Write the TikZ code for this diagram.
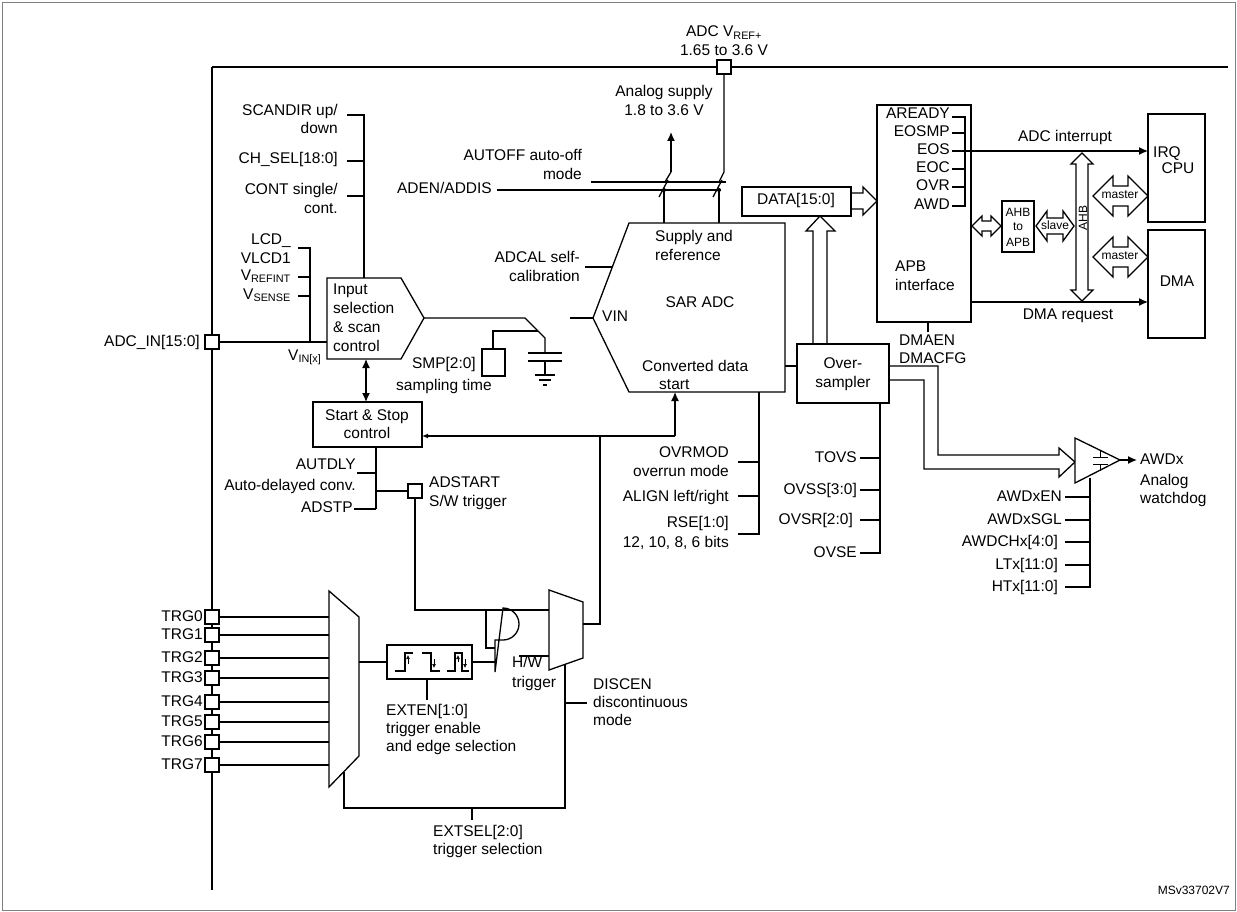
\documentclass[tikz,border=0pt]{standalone}
\usepackage{fontspec}
\setmainfont{Liberation Sans}
\usetikzlibrary{arrows.meta}
\newcounter{lc}
\newcommand\mylab[4][center]{\stepcounter{lc}\node[lbl,anchor=#1] (L\thelc) at (#2,#3) {#4};}
\newcommand\hdarrow[6]{\draw[wire,fill=white] (#1,#3) -- ({#1+#6},{#3-#5}) -- ({#1+#6},{#3-#4}) -- ({#2-#6},{#3-#4}) -- ({#2-#6},{#3-#5}) -- (#2,#3) -- ({#2-#6},{#3+#5}) -- ({#2-#6},{#3+#4}) -- ({#1+#6},{#3+#4}) -- ({#1+#6},{#3+#5}) -- cycle;}
\begin{document}
\begin{tikzpicture}[x=1pt,y=-1pt,
  lbl/.style={inner sep=0pt,font=\fontsize{15.5}{18}\selectfont,text height=11.5pt,text depth=3.5pt},
  sm/.style={inner sep=0pt,font=\fontsize{12}{13}\selectfont},
  wire/.style={line width=1.3pt,line join=miter},
  bus/.style={line width=2.6pt},
  box/.style={wire,fill=white},
  arr/.style={wire,-{Latex[length=9pt,width=8pt]}},
  pin/.style={draw,line width=1.2pt,fill=white,minimum size=14pt,inner sep=0pt}]
\useasboundingbox (0,0) rectangle (1237,912);
\draw[line width=0.8pt,gray] (2,2) rectangle (1235,910);
% buses
\draw[bus] (212,67) -- (212,890);
\draw[bus] (212,67) -- (1228,67);
\node[pin] (vref) at (724,67) {};
\mylab{724}{33}{ADC V\textsubscript{REF+}}
\mylab{724}{52}{1.65 to 3.6 V}
\mylab{664}{93}{Analog supply}
\mylab{664}{112}{1.8 to 3.6 V}
\mylab[east]{582}{157}{AUTOFF auto-off}
\mylab[east]{582}{176}{mode}
\mylab[east]{492}{190}{ADEN/ADDIS}
% supply switches
\draw[wire] (591,182) -- (726,182);
\draw[wire] (497,190) -- (721,190);
\draw[arr] (671,172) -- (671,132);
\draw[wire] (671,172) -- (665,182);
\draw[wire] (668,180) -- (659,197);
\draw[wire] (664,190) -- (664,223);
\draw[wire] (vref.south) -- (724,172) -- (719,182);
\draw[wire] (722,180) -- (713,197);
\draw[wire] (719,190) -- (719,223);
\fill (664,190) circle (2pt) (719,190) circle (2pt);
% SAR ADC
\draw[box] (629,223) -- (785,223) -- (785,392) -- (629,392) -- (593,318) -- cycle;
\coordinate (sar) at (700,303);
\mylab[west]{655}{238}{Supply and}
\mylab[west]{655}{256}{reference}
\mylab{700}{303}{SAR ADC}
\mylab[west]{602}{317}{VIN}
\mylab[west]{642}{367}{Converted data}
\mylab[west]{659}{385}{start}
\mylab[east]{580}{258}{ADCAL self-}
\mylab[east]{580}{277}{calibration}
\draw[wire] (585,267) -- (612,267);
\draw[wire] (570,318) -- (593,318);
% left labels
\mylab[east]{338}{112}{SCANDIR up/}
\mylab[east]{338}{130}{down}
\mylab[east]{338}{160}{CH\_SEL[18:0]}
\mylab[east]{338}{191}{CONT single/}
\mylab[east]{338}{210}{cont.}
\draw[wire] (347,115) -- (364,115) -- (364,278);
\draw[wire] (347,161) -- (364,161);
\draw[wire] (347,196) -- (364,196);
\mylab[east]{291}{240}{LCD\_}
\mylab[east]{291}{259}{VLCD1}
\mylab[east]{291}{276}{V\textsubscript{REFINT}}
\mylab[east]{291}{295}{V\textsubscript{SENSE}}
\draw[wire] (298,248) -- (310,248) -- (310,342);
\draw[wire] (298,277) -- (310,277);
\draw[wire] (298,296) -- (310,296);
\node[pin] (adcin) at (212,342) {};
\mylab[east]{200}{342}{ADC\_IN[15:0]}
\draw[wire] (adcin.east) -- (327,342);
\mylab[west]{288}{356}{V\textsubscript{IN[x]}}
% input selection
\draw[box] (327,278) -- (401,278) -- (424,318) -- (401,359) -- (327,359) -- cycle;
\mylab[west]{333}{290}{Input}
\mylab[west]{333}{309}{selection}
\mylab[west]{333}{328}{\& scan}
\mylab[west]{333}{347}{control}
\draw[wire] (424,318) -- (525,318) -- (545,338) -- (545,353);
\draw[wire] (528,353) -- (562,353) (528,361) -- (562,361);
\draw[wire] (545,361) -- (545,375);
\draw[wire] (535,375) -- (555,375) (539,380) -- (551,380) (543,385) -- (547,385);
\draw[box] (482,349) rectangle (505,376);
\draw[wire] (493,349) -- (493,331) -- (538,331);
\mylab[east]{476}{364}{SMP[2:0]}
\mylab[east]{492}{386}{sampling time}
% start stop
\draw[box] (313,402) rectangle (422,447);
\mylab{367}{416}{Start \& Stop}
\mylab{367}{434}{control}
\draw[wire,{Latex[length=9pt,width=8pt]}-{Latex[length=9pt,width=8pt]}] (366,359) -- (366,402);
\draw[arr] (675,436) -- (675,392);
\draw[wire,-{Latex[length=6pt,width=5pt]}] (675,436) -- (422,436);
\draw[bus] (376,447) -- (376,509);
\draw[wire] (357,473) -- (376,473);
\draw[line width=2pt] (354,509) -- (376,509);
\draw[wire] (376,491) -- (407,491);
\mylab[east]{356}{465}{AUTDLY}
\mylab[east]{356}{486}{Auto-delayed conv.}
\mylab[east]{353}{508}{ADSTP}
\node[pin] (adstart) at (415,491) {};
\mylab[west]{429}{483}{ADSTART}
\mylab[west]{429}{502}{S/W trigger}
% triggers
\draw[box] (329,591) -- (359,617) -- (359,756) -- (329,787) -- cycle;
\foreach \i/\y in {0/617,1/635,2/658,3/678,4/702,5/722,6/742,7/765}{
  \node[pin] (trg\i) at (212,\y) {};
  \draw[wire] (trg\i.east) -- (329,\y);
  \mylab[east]{203}{\y}{TRG\i}
}
\draw[wire] (359,662) -- (387,662);
\draw[box] (387,645) rectangle (472,679);
\draw[line width=1.1pt] (395,671) -- (405,671) -- (405,653) -- (413,653)
  (422,653) -- (431,653) -- (431,671) -- (440,671)
  (447,671) -- (455,671) -- (455,653) -- (462,653) -- (462,671) -- (469,671);
\draw[line width=0.7pt,-{Latex[length=4pt,width=4pt]}] (408,664) -- (408,655);
\draw[line width=0.7pt,-{Latex[length=4pt,width=4pt]}] (434,659) -- (434,668);
\draw[line width=0.7pt,-{Latex[length=4pt,width=4pt]}] (458,662) -- (458,655);
\draw[line width=0.7pt,-{Latex[length=4pt,width=4pt]}] (465,659) -- (465,668);
\draw[wire] (427,679) -- (427,700);
\mylab[west]{386}{711}{EXTEN[1:0]}
\mylab[west]{386}{729}{trigger enable}
\mylab[west]{386}{747}{and edge selection}
\draw[wire] (472,662) -- (495,662);
\draw[box] (495,640) -- (503,640) arc (90:-90:16) -- (495,672) -- cycle;
\draw[wire] (adstart.south) -- (415,610) -- (549,610);
\draw[wire] (486,610) -- (486,648) -- (495,648);
\draw[wire] (519,656) -- (549,656);
\mylab[west]{512}{663}{H/W}
\mylab[west]{512}{683}{trigger}
\draw[box] (549,590) -- (583,602) -- (583,658) -- (549,670) -- cycle;
\draw[wire] (583,624) -- (600,624) -- (600,436);
\draw[wire] (565,664) -- (565,808) -- (344,808) -- (344,772);
\draw[wire] (565,703) -- (587,703);
\mylab[west]{593}{685}{DISCEN}
\mylab[west]{593}{703}{discontinuous}
\mylab[west]{593}{721}{mode}
\draw[wire] (472,808) -- (472,820);
\mylab[west]{433}{832}{EXTSEL[2:0]}
\mylab[west]{433}{850}{trigger selection}
% SAR bottom controls
\draw[wire] (759,392) -- (759,534) -- (738,534);
\draw[wire] (738,462) -- (759,462);
\draw[wire] (738,496) -- (759,496);
\mylab[east]{729}{453}{OVRMOD}
\mylab[east]{729}{472}{overrun mode}
\mylab[east]{729}{497}{ALIGN left/right}
\mylab[east]{729}{523}{RSE[1:0]}
\mylab[east]{729}{543}{12, 10, 8, 6 bits}
% oversampler
\draw[box] (797,344) rectangle (889,403);
\mylab{843}{364}{Over-}
\mylab{843}{383}{sampler}
\draw[wire] (785,366) -- (797,366);
\draw[wire] (880,403) -- (880,553) -- (860,553);
\foreach \y in {458,490,520}{\draw[wire] (860,\y) -- (880,\y);}
\mylab[east]{857}{458}{TOVS}
\mylab[east]{857}{490}{OVSS[3:0]}
\mylab[east]{853}{520}{OVSR[2:0]}
\mylab[east]{857}{553}{OVSE}
\draw[wire] (827,344) -- (827,231) -- (835,231) -- (820,216) -- (806,231) -- (813,231) -- (813,344);
\draw[box] (742,187) rectangle (851,216);
\mylab{796}{201}{DATA[15:0]}
\draw[wire] (851,193) -- (863,193) -- (863,187) -- (877,201) -- (863,215) -- (863,209) -- (851,209);
% AWD
\draw[wire] (889,366) -- (938,366) -- (938,455) -- (1059,455) -- (1059,448) -- (1075,462) -- (1059,477) -- (1059,469) -- (924,469) -- (924,380) -- (889,380);
\draw[box] (1075,438) -- (1075,483) -- (1120,460) -- cycle;
\draw[line width=1pt] (1093,457) -- (1108,457) (1093,464) -- (1108,464) (1100,450) -- (1100,457) (1100,464) -- (1100,471);
\draw[wire,-{Latex[length=9pt,width=8pt]}] (1120,460) -- (1137,460);
\mylab[west]{1140}{460}{AWDx}
\mylab[west]{1140}{481}{Analog}
\mylab[west]{1140}{499}{watchdog}
\draw[wire] (1090,478) -- (1090,587) -- (1065,587);
\foreach \y in {497,520,542,565}{\draw[wire] (1065,\y) -- (1090,\y);}
\mylab[east]{1062}{497}{AWDxEN}
\mylab[east]{1062}{520}{AWDxSGL}
\mylab[east]{1058}{542}{AWDCHx[4:0]}
\mylab[east]{1058}{565}{LTx[11:0]}
\mylab[east]{1058}{587}{HTx[11:0]}
% APB
\draw[box] (877,105) rectangle (971,322);
\foreach \t/\y in {AREADY/115,EOSMP/133,EOS/151,EOC/169,OVR/187,AWD/206}{\mylab[east]{950}{\y}{\t}}
\draw[wire] (952,117) -- (965,117) -- (965,206) -- (952,206);
\foreach \y in {133,169,187}{\draw[wire] (952,\y) -- (965,\y);}
\mylab[west]{895}{268}{APB}
\mylab[west]{895}{286}{interface}
\draw[wire] (928,322) -- (928,332);
\mylab[west]{899}{341}{DMAEN}
\mylab[west]{899}{359}{DMACFG}
\draw[box] (1148,114) rectangle (1205,222);
\draw[box] (1148,230) rectangle (1205,338);
\mylab[west]{1153}{154}{IRQ}
\mylab{1178}{170}{CPU}
\mylab{1177}{283}{DMA}
\draw[wire,-{Latex[length=9pt,width=8pt]}] (952,151) -- (1148,151);
\mylab{1065}{138}{ADC interrupt}
\draw[wire,-{Latex[length=9pt,width=8pt]}] (971,302) -- (1148,302);
\mylab{1068}{315}{DMA request}
\draw[wire,fill=white] (1082,153) -- (1093,164) -- (1088,164) -- (1088,290) -- (1093,290) -- (1082,301) -- (1071,290) -- (1076,290) -- (1076,164) -- (1071,164) -- cycle;
\node[sm,rotate=90] (ahb) at (1083,218) {AHB};
\hdarrow{972}{1001}{226}{5}{10}{10}
\draw[box] (1002,201) rectangle (1034,252);
\node[sm] (a1) at (1018,212) {AHB};
\node[sm] (a2) at (1018,227) {to};
\node[sm] (a3) at (1018,242) {APB};
\hdarrow{1036}{1074}{226}{8}{15}{11}
\node[sm] (slv) at (1055,225) {slave};
\hdarrow{1093}{1148}{196}{10}{20}{20}
\node[sm] (m1) at (1120,195) {master};
\hdarrow{1093}{1148}{257}{10}{20}{20}
\node[sm] (m2) at (1120,256) {master};
\node[sm,anchor=east] (ref) at (1230,890) {MSv33702V7};
\end{tikzpicture}
\end{document}
